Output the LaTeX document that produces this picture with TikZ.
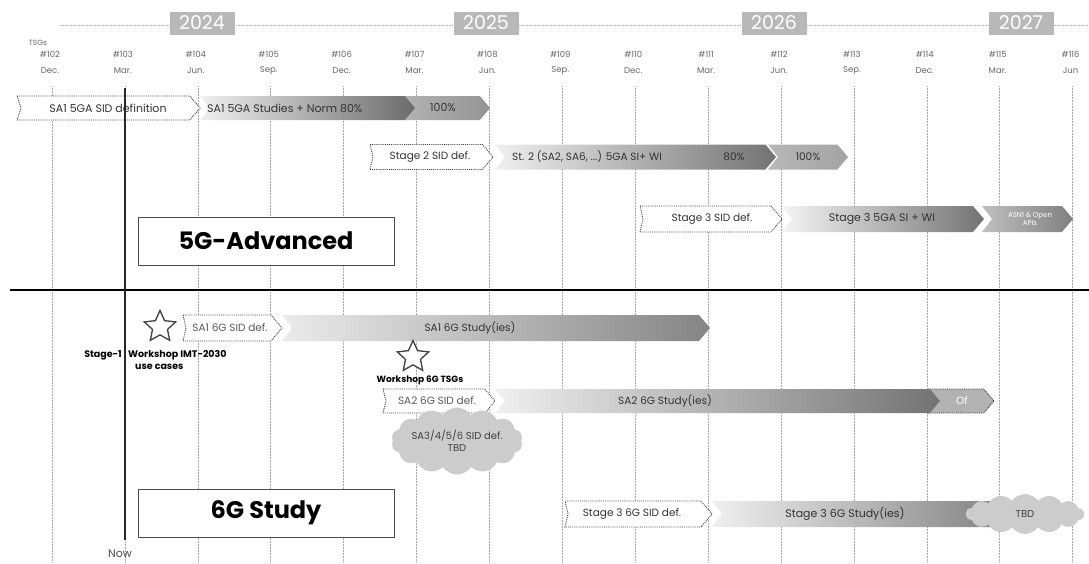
\documentclass[tikz,border=0pt]{standalone}
\usepackage{fontspec}
\setmainfont{Poppins}
\usetikzlibrary{shapes.geometric,shapes.symbols}
\newcommand\chevron[6]{% style, x1, x2, yc, half height, notch
  \path[#1] (#2,{#4-#5}) -- ({#3-0.85*#5},{#4-#5}) -- (#3,#4) -- ({#3-0.85*#5},{#4+#5}) -- (#2,{#4+#5}) -- ({#2+#6},#4) -- cycle;}
\tikzset{
  wbox/.style={fill=white, draw=black!75, densely dotted, line width=0.9pt},
  lbl/.style={font=\fontsize{10.5}{12}\selectfont, text=black!80, inner sep=0pt},
  hdr/.style={font=\fontsize{8.5}{10}\selectfont, text=black!60, inner sep=0pt},
  yearbox/.style={fill=black!28, text=white, font=\fontsize{19}{20}\selectfont, inner sep=0pt, minimum width=65pt, minimum height=23pt},
  grid/.style={draw=black!35, densely dotted, line width=0.5pt},
  bold/.style={font=\bfseries\fontsize{9.5}{11}\selectfont, text=black, inner sep=0pt},
  titlebox/.style={draw=black!70, fill=white, line width=0.8pt, font=\bfseries\fontsize{24}{26}\selectfont, minimum width=256pt, minimum height=48pt, inner sep=0pt},
  starshape/.style={star, star points=5, star point ratio=2.1, draw=black!75, fill=white, line width=1.3pt, minimum size=33pt, inner sep=0pt},
  cloudshape/.style={cloud, cloud puffs=14, cloud puff arc=110, fill=black!20, draw=none, aspect=2.4, inner sep=0pt, font=\fontsize{10}{12}\selectfont, text=black!75, align=center}
}
\begin{document}
\begin{tikzpicture}[x=1pt,y=-1pt]
\useasboundingbox (0,0) rectangle (1089,563);
\fill[white] (0,0) rectangle (1089,563);
% header
\draw[black!30, densely dotted, line width=0.6pt] (60,25) -- (1089,25);
\node[yearbox] (y24) at (202,23) {2024};
\node[yearbox] (y25) at (486,23) {2025};
\node[yearbox] (y26) at (774,23) {2026};
\node[yearbox] (y27) at (1021,23) {2027};
\node[hdr, font=\fontsize{7.5}{8}\selectfont] (tsgs) at (38,43) {TSGs};
\foreach \i/\n/\m in {0/102/Dec., 1/103/Mar., 2/104/Jun., 3/105/Sep., 4/106/Dec., 5/107/Mar., 6/108/Jun., 7/109/Sep., 8/110/Dec., 9/111/Mar., 10/112/Jun., 11/113/Sep., 12/114/Dec., 13/115/Mar., 14/116/Jun}{
  \pgfmathsetmacro\gx{52+72.9*\i}
  \node[hdr] (n\n) at (\gx-2,54) {\#\n};
  \node[hdr] (m\n) at (\gx-2,71) {\m};
  \draw[grid] (\gx,86) -- (\gx,563);
}
% 5G-Advanced row 1
\chevron{wbox}{17}{200}{108}{12}{4}
\node[lbl, font=\fontsize{11}{12}\selectfont] (sa1sid) at (108,108) {SA1 5GA SID definition};
\chevron{left color=black!30, right color=black!42}{404}{490}{108}{12}{10}
\node[lbl, font=\fontsize{11}{12}\selectfont] (sa1hund) at (443,108) {100\%};
\chevron{left color=black!6, right color=black!58}{200}{415}{108}{12}{10}
\node[lbl, font=\fontsize{11}{12}\selectfont, anchor=west] (sa1stud) at (207,108) {SA1 5GA Studies + Norm 80\%};
% row 2
\chevron{wbox}{370}{493}{157}{12.5}{3}
\node[lbl] (st2sid) at (430,157) {Stage 2 SID def.};
\chevron{left color=black!28, right color=black!36}{768}{848}{157}{12.5}{10}
\node[lbl] (st2hund) at (808,157) {100\%};
\chevron{left color=black!6, right color=black!55}{495}{776}{157}{12.5}{10}
\node[lbl, anchor=west] (st2wi) at (512,157) {St. 2 (SA2, SA6, ...) 5GA SI+ WI};
\node[lbl] (st2eighty) at (734,157) {80\%};
% row 3
\chevron{wbox}{640}{782}{219}{13}{3}
\node[lbl] (st3sid) at (712,219) {Stage 3 SID def.};
\chevron{left color=black!25, right color=black!50}{982}{1073}{219}{13}{10}
\node[lbl, font=\fontsize{7}{8}\selectfont, align=center, text=white] (asn) at (1030,219) {ASN1 \& Open\\APIs};
\chevron{left color=black!4, right color=black!55}{782}{984}{219}{13}{10}
\node[lbl, font=\fontsize{11}{12}\selectfont] (st3wi) at (882,219) {Stage 3 5GA SI + WI};
\node[titlebox] (adv) at (266,241) {5G-Advanced};
% separator and Now line
\draw[black, line width=1.6pt] (10,290) coordinate (sepL) -- (1089,290) coordinate (sepR);
\draw[black!85, line width=1.6pt] (125,88) coordinate (nowT) -- (125,540) coordinate (nowB);
\node[lbl, font=\fontsize{11}{12}\selectfont, text=black!70] (now) at (120,554) {Now};
% 6G study
\node[starshape] (star1) at (160,327) {};
\chevron{left color=black!8, right color=black!48}{282}{710}{328}{13}{10}
\node[lbl] (sa16g) at (470,328) {SA1 6G Study(ies)};
\chevron{wbox}{183}{282}{328}{13}{3}
\node[lbl, text=black!65] (sa16gsid) at (230,328) {SA1 6G SID def.};
\node[bold, anchor=east] (stage1) at (122,355) {Stage-1};
\node[bold, anchor=west] (ws1) at (128,355) {Workshop IMT-2030};
\node[bold, anchor=west] (ws1b) at (135,367) {use cases};
\node[starshape] (star2) at (413,357) {};
\node[bold, font=\bfseries\fontsize{9}{11}\selectfont] (ws2) at (420,380) {Workshop 6G TSGs};
\chevron{wbox}{383}{495}{401}{12}{3}
\node[lbl, text=black!65] (sa26gsid) at (437,401) {SA2 6G SID def.};
\chevron{fill=black!30, draw=black!80, densely dotted, line width=0.9pt}{928}{994}{401}{12}{10}
\node[lbl, text=white] (of) at (962,401) {Of};
\chevron{left color=black!6, right color=black!55}{495}{940}{401}{12}{10}
\node[lbl] (sa26g) at (665,401) {SA2 6G Study(ies)};
\node[cloudshape, minimum width=118pt, minimum height=48pt] (sa3cl) at (457,441) {SA3/4/5/6 SID def.\\TBD};
\chevron{wbox}{565}{712}{514}{13}{3}
\node[lbl] (st36gsid) at (632,514) {Stage 3 6G SID def.};
\chevron{left color=black!6, right color=black!50}{712}{1010}{514}{13}{10}
\node[lbl, font=\fontsize{11}{12}\selectfont] (st36g) at (845,514) {Stage 3 6G Study(ies)};
\node[cloudshape, minimum width=118pt, minimum height=40pt, fill=black!20] (tbdcl) at (1025,514) {TBD};
\node[titlebox] (sixg) at (266,513) {6G Study};
\end{tikzpicture}
\end{document}
